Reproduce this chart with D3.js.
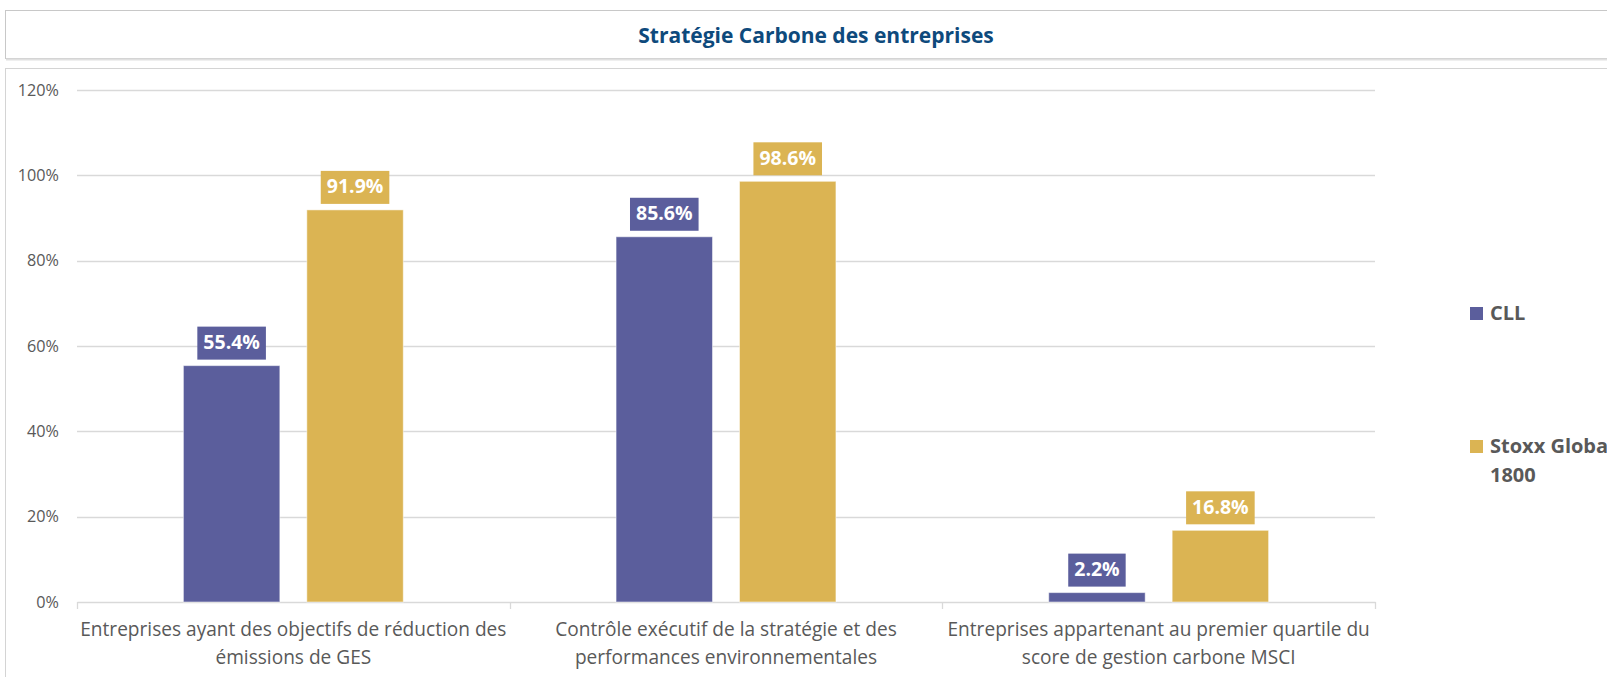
<!DOCTYPE html>
<html>
<head>
<meta charset="utf-8">
<script src="https://cdn.jsdelivr.net/npm/d3@7"></script>
<style>
  body { margin: 0; background: #fff; }
  svg { display: block; font-family: "Open Sans", sans-serif; }
</style>
</head>
<body>
<div id="chart"></div>
<script>
var svgWidth = 1607;
var svgHeight = 677;

// chart data
var categories = [
  ["Entreprises ayant des objectifs de réduction des", "émissions de GES"],
  ["Contrôle exécutif de la stratégie et des", "performances environnementales"],
  ["Entreprises appartenant au premier quartile du", "score de gestion carbone MSCI"]
];
var seriesNames = ["CLL", "Stoxx Global 1800"];
var legendLines = [["CLL"], ["Stoxx Global", "1800"]];
var cllValues = [0.554, 0.856, 0.022];
var stoxxValues = [0.919, 0.986, 0.168];
var yTicks = [0, 0.2, 0.4, 0.6, 0.8, 1.0, 1.2];
var colors = ["#5B5E9C", "#DBB453"];

var margin = { top: 90, left: 77, right: 232, bottom: 75 };
var width = svgWidth - margin.left - margin.right;
var height = svgHeight - margin.top - margin.bottom;

var svg = d3.select("#chart")
  .append("svg")
  .attr("width", svgWidth)
  .attr("height", svgHeight);

// title box
svg.append("rect")
  .attr("x", 5.5).attr("y", 10.5)
  .attr("width", 1620).attr("height", 48)
  .attr("fill", "#fff")
  .attr("stroke", "#C8C8C8");
svg.append("line")
  .attr("x1", 6).attr("x2", 1607).attr("y1", 59.5).attr("y2", 59.5)
  .attr("stroke", "#E0E0E0").attr("stroke-width", 2);
svg.append("text")
  .attr("x", 816).attr("y", 37)
  .attr("text-anchor", "middle")
  .attr("dominant-baseline", "middle")
  .attr("font-size", 21)
  .attr("font-weight", "bold")
  .attr("fill", "#0E4A7C")
  .text("Stratégie Carbone des entreprises");

// chart panel
svg.append("rect")
  .attr("x", 5.5).attr("y", 68.5)
  .attr("width", 1620).attr("height", 700)
  .attr("fill", "#fff")
  .attr("stroke", "#D4D4D4");

var chartGroup = svg.append("g")
  .attr("transform", `translate(${margin.left}, ${margin.top})`);

var x0 = d3.scaleBand()
  .domain(d3.range(categories.length))
  .range([0, width])
  .paddingInner(0)
  .paddingOuter(0);

var x1 = d3.scaleBand()
  .domain(d3.range(seriesNames.length))
  .range([0, x0.bandwidth()])
  .paddingInner(0.2186)
  .paddingOuter(0.862);

var y = d3.scaleLinear()
  .domain([0, 1.2])
  .range([height, 0]);

// gridlines
chartGroup.append("g")
  .selectAll("line")
  .data(yTicks.slice(1))
  .enter()
  .append("line")
  .attr("x1", 0).attr("x2", width)
  .attr("y1", d => Math.round(y(d)) + 0.5)
  .attr("y2", d => Math.round(y(d)) + 0.5)
  .attr("stroke", "#D9D9D9")
  .attr("stroke-width", 1.3);

// y axis labels
var leftAxis = d3.axisLeft(y)
  .tickValues(yTicks)
  .tickFormat(d3.format(".0%"))
  .tickSize(0)
  .tickPadding(18);
var yAxis = chartGroup.append("g").call(leftAxis)
  .attr("font-family", "'Open Sans', sans-serif")
  .attr("font-size", 16.2);
yAxis.select(".domain").remove();
yAxis.selectAll("text")
  .attr("fill", "#595959");

// x axis baseline + category ticks
var bottomAxis = d3.axisBottom(x0)
  .tickValues([])
  .tickSizeOuter(0);
var xAxis = chartGroup.append("g")
  .attr("transform", `translate(0, ${height})`)
  .call(bottomAxis)
  .attr("font-family", "'Open Sans', sans-serif");
xAxis.select(".domain")
  .attr("stroke", "#D9D9D9")
  .attr("stroke-width", 1.3);
xAxis.selectAll(".divider")
  .data(d3.range(categories.length + 1))
  .enter()
  .append("line")
  .attr("class", "divider")
  .attr("x1", d => Math.round(d * x0.bandwidth()) + 0.5)
  .attr("x2", d => Math.round(d * x0.bandwidth()) + 0.5)
  .attr("y1", 0).attr("y2", 7)
  .attr("stroke", "#D9D9D9")
  .attr("stroke-width", 1.3);

// category labels
var catLabels = xAxis.selectAll(".catlabel")
  .data(categories)
  .enter()
  .append("text")
  .attr("class", "catlabel")
  .attr("text-anchor", "middle")
  .attr("font-size", 19.1)
  .attr("fill", "#595959")
  .attr("transform", (d, i) => `translate(${x0(i) + x0.bandwidth() / 2}, 0)`);
catLabels.selectAll("tspan")
  .data(d => d)
  .enter()
  .append("tspan")
  .attr("x", 0)
  .attr("y", (d, i) => 34 + i * 28)
  .text(d => d);

// bars
var table = categories.map((c, i) => [cllValues[i], stoxxValues[i]]);

var groups = chartGroup.append("g")
  .selectAll("g")
  .data(table)
  .enter()
  .append("g")
  .attr("transform", (d, i) => `translate(${x0(i)}, 0)`);

groups.selectAll("rect")
  .data(d => d)
  .enter()
  .append("rect")
  .attr("x", (d, j) => x1(j))
  .attr("y", d => y(d))
  .attr("width", x1.bandwidth())
  .attr("height", d => height - y(d))
  .attr("fill", (d, j) => colors[j])
  .attr("stroke", "#fff")
  .attr("stroke-opacity", 0.5)
  .attr("stroke-width", 1);

// value labels with filled boxes
var fmt = d3.format(".1%");
var labels = groups.selectAll(".vlabel")
  .data(d => d)
  .enter()
  .append("g")
  .attr("class", "vlabel")
  .attr("transform", (d, j) => `translate(${x1(j) + x1.bandwidth() / 2}, ${y(d) - 6})`);

var boxes = labels.append("rect")
  .attr("y", -33)
  .attr("height", 33)
  .attr("fill", (d, j) => colors[j]);

var vtexts = labels.append("text")
  .attr("text-anchor", "middle")
  .attr("y", -16)
  .attr("dominant-baseline", "middle")
  .attr("font-size", 19.5)
  .attr("font-weight", "bold")
  .attr("fill", "#fff")
  .text(d => fmt(d));

vtexts.each(function () {
  var w = this.getComputedTextLength() + 12;
  d3.select(this.parentNode).select("rect")
    .attr("x", -w / 2)
    .attr("width", w);
});

// legend
var legend = svg.append("g")
  .selectAll("g")
  .data(legendLines)
  .enter()
  .append("g")
  .attr("transform", (d, i) => `translate(1470, ${307 + i * 133})`);

legend.append("rect")
  .attr("width", 13).attr("height", 13)
  .attr("fill", (d, i) => colors[i]);

var legendText = legend.append("text")
  .attr("font-size", 20)
  .attr("font-weight", "bold")
  .attr("fill", "#595959");
legendText.selectAll("tspan")
  .data(d => d)
  .enter()
  .append("tspan")
  .attr("x", 20)
  .attr("y", (d, i) => 13 + i * 29)
  .text(d => d);
</script>
</body>
</html>
